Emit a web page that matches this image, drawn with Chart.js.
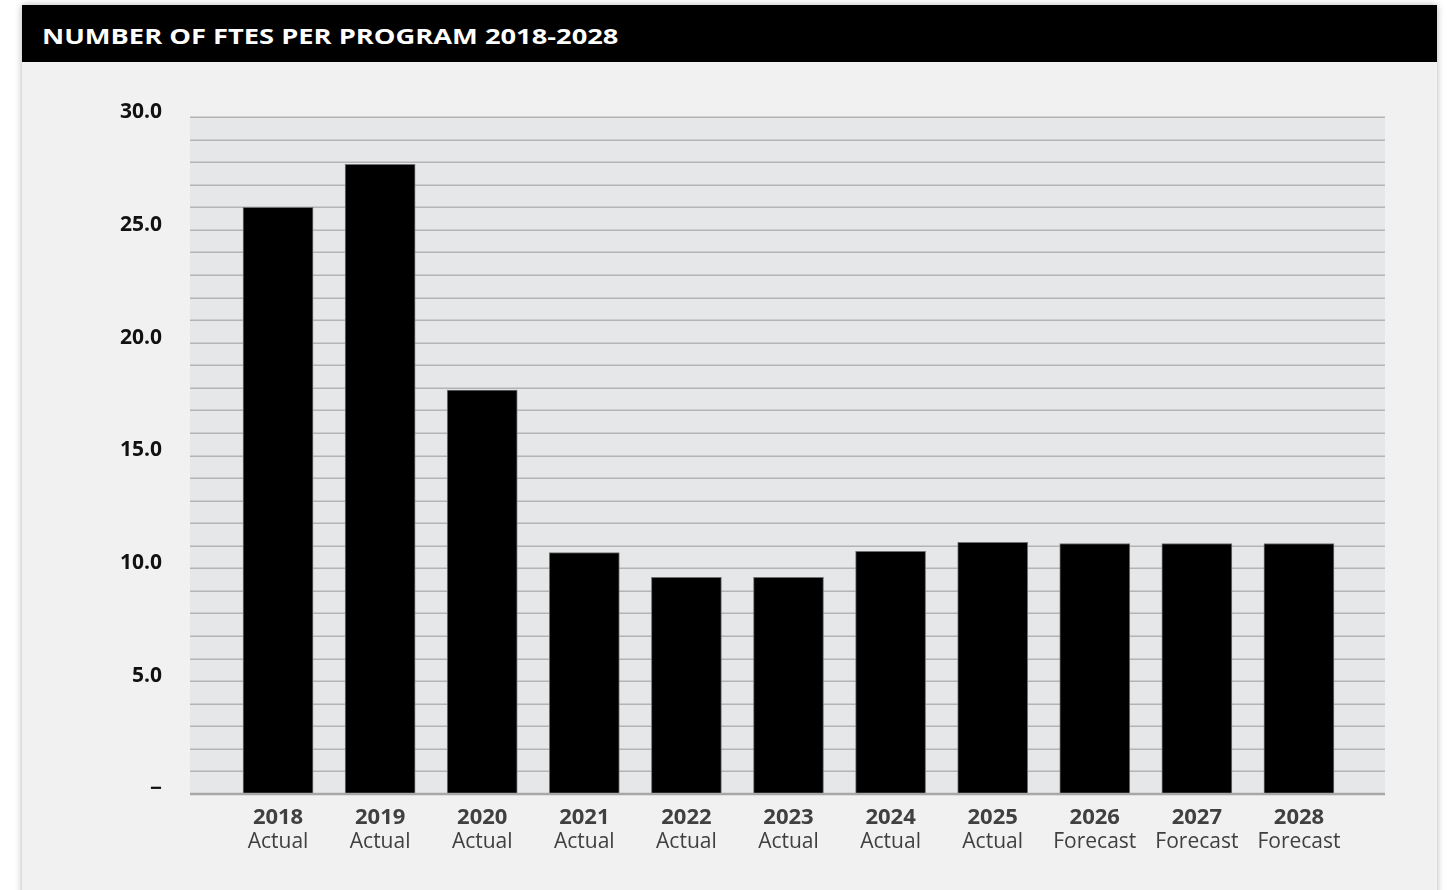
<!DOCTYPE html>
<html>
<head>
<meta charset="utf-8">
<script src="https://cdn.jsdelivr.net/npm/chart.js@4.4.0/dist/chart.umd.min.js"></script>
<style>
  html, body { margin: 0; padding: 0; background: #fff; }
  body { width: 1454px; height: 890px; position: relative; overflow: hidden; font-family: 'Open Sans', sans-serif; }
  .panel {
    position: absolute; left: 22px; top: 5px; width: 1415px; height: 900px;
    background: #f1f1f1; box-shadow: 0 0 7px rgba(0,0,0,0.3);
  }
  .panel h3 {
    margin: 0; height: 57px; background: #000; color: #fff;
    font: 700 22px 'Open Sans', sans-serif; line-height: 60px; padding-left: 20px;
  }
  .panel h3 span { display: inline-block; transform: scaleX(1.24); transform-origin: left center; }
  #ftesChart { position: absolute; left: 0; top: 0; }
</style>
</head>
<body>
<div class="panel">
  <h3><span>NUMBER OF FTES PER PROGRAM 2018-2028</span></h3>
</div>
<canvas id="ftesChart" width="1454" height="890"></canvas>

<script>
const years = ['2018', '2019', '2020', '2021', '2022', '2023', '2024', '2025', '2026', '2027', '2028'];
const status = ['Actual', 'Actual', 'Actual', 'Actual', 'Actual', 'Actual', 'Actual', 'Actual', 'Forecast', 'Forecast', 'Forecast'];
const ftes = [26.0, 27.9, 17.9, 10.7, 9.6, 9.6, 10.75, 11.15, 11.1, 11.1, 11.1];
const yTicks = [0, 5, 10, 15, 20, 25, 30];

// grey plot band with a line on every whole unit, a bit wider than the bars' area
const plotBand = {
  id: 'plotBand',
  beforeDatasetsDraw(chart) {
    const { ctx, chartArea, scales } = chart;
    const left = chartArea.left - 37;
    const right = chartArea.right + 35;
    ctx.save();
    ctx.fillStyle = '#e6e7e8';
    ctx.fillRect(left, chartArea.top, right - left, chartArea.bottom - chartArea.top);
    ctx.strokeStyle = '#b3b4b6';
    ctx.lineWidth = 1.5;
    for (let v = 1; v <= 30; v++) {
      const y = Math.round(scales.y.getPixelForValue(v)) + 0.25;
      ctx.beginPath();
      ctx.moveTo(left, y);
      ctx.lineTo(right, y);
      ctx.stroke();
    }
    ctx.restore();
  },
  afterDatasetsDraw(chart) {
    const { ctx, chartArea, scales } = chart;
    const y = scales.y.getPixelForValue(0);
    ctx.save();
    ctx.strokeStyle = '#a6a7a9';
    ctx.lineWidth = 2.5;
    ctx.beginPath();
    ctx.moveTo(chartArea.left - 37, y);
    ctx.lineTo(chartArea.right + 35, y);
    ctx.stroke();
    ctx.restore();
  }
};

new Chart(document.getElementById('ftesChart'), {
  type: 'bar',
  data: {
    labels: years,
    datasets: [{
      data: ftes,
      backgroundColor: '#000',
      borderColor: '#707070',
      borderWidth: 1,
      barThickness: 70
    }]
  },
  options: {
    responsive: false,
    animation: false,
    layout: { padding: { left: 0, top: 117, right: 104, bottom: 36 } },
    plugins: { legend: { display: false }, tooltip: { enabled: false } },
    scales: {
      y: {
        min: 0,
        max: 30,
        afterBuildTicks: s => { s.ticks = yTicks.map(v => ({ value: v })); },
        afterFit: s => { s.width = 227; },
        grid: { display: false, drawTicks: false },
        border: { display: false },
        ticks: {
          padding: 65,
          labelOffset: -5,
          color: '#111',
          font: { family: 'Open Sans', weight: 'bold', size: 21 },
          callback: v => v === 0 ? '−' : v.toFixed(1)
        }
      },
      x: {
        offset: true,
        weight: 0,
        afterFit: s => { s.height = 30; },
        grid: { display: false, drawTicks: false },
        border: { display: false },
        ticks: {
          padding: 11,
          maxRotation: 0,
          autoSkip: false,
          color: '#404040',
          font: { family: 'Open Sans', weight: 'bold', size: 22 }
        }
      },
      x2: {
        type: 'category',
        position: 'bottom',
        labels: status,
        offset: true,
        weight: 1,
        afterFit: s => { s.height = 30; },
        grid: { display: false, drawTicks: false },
        border: { display: false },
        ticks: {
          padding: 5,
          maxRotation: 0,
          autoSkip: false,
          color: '#404040',
          font: { family: 'Open Sans', size: 21 }
        }
      }
    }
  },
  plugins: [plotBand]
});
</script>
</body>
</html>
